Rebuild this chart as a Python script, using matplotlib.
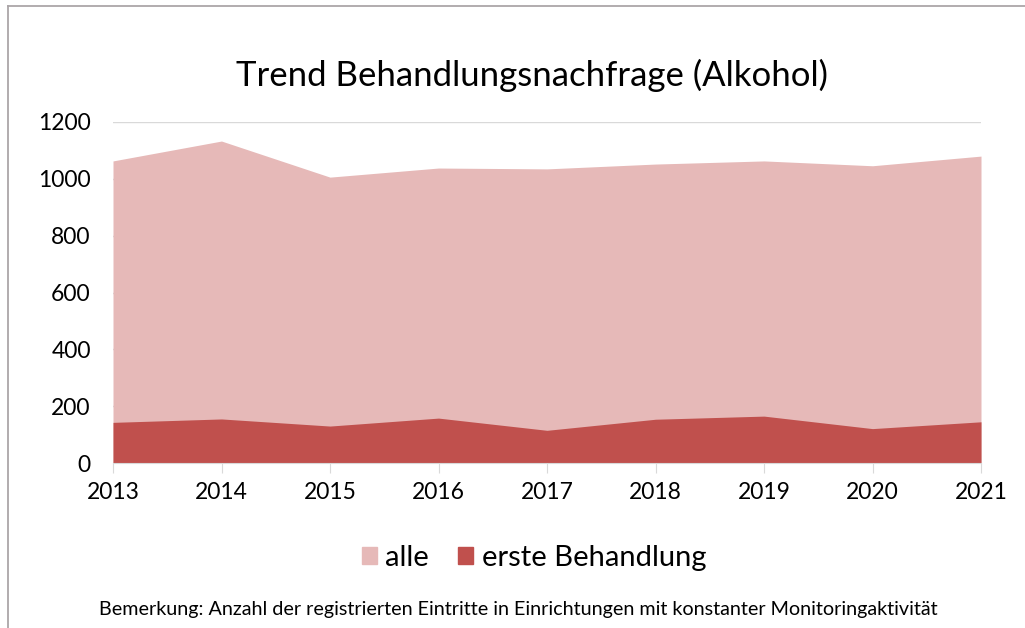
import numpy as np
import matplotlib; matplotlib.use('Agg'); import matplotlib.pyplot as plt
from matplotlib.patches import Patch
from matplotlib.lines import Line2D

years = [2013, 2014, 2015, 2016, 2017, 2018, 2019, 2020, 2021]
alle = [1063, 1133, 1006, 1038, 1035, 1052, 1063, 1046, 1080]
erste = [143, 155, 130, 158, 115, 154, 165, 121, 145]
yticks = [0, 200, 400, 600, 800, 1000, 1200]

c_alle = '#E6B9B8'; c_erste = '#C0504D'
plt.rcParams['font.family'] = ['Lato', 'DejaVu Sans']

fig = plt.figure(figsize=(10.25, 6.28), dpi=100)
ax = fig.add_axes([113/1025, 1-463/628, (981-113)/1025, (463-122)/628])

x = np.arange(len(years))
ax.fill_between(x, 0, alle, color=c_alle, lw=0, zorder=2)
ax.fill_between(x, 0, erste, color=c_erste, lw=0, zorder=3)

ax.set_xlim(0, len(years)-1); ax.set_ylim(0, 1200)
ax.set_yticks(yticks); ax.set_xticks(x); ax.set_xticklabels([str(y) for y in years])
ax.yaxis.grid(True, color='#D9D9D9', lw=1, zorder=0)
ax.set_axisbelow(True)
for s in ('top', 'right', 'left'): ax.spines[s].set_visible(False)
ax.spines['bottom'].set_color('#D9D9D9'); ax.spines['bottom'].set_zorder(4)
ax.tick_params(axis='y', length=0, labelsize=16.5, pad=16)
ax.tick_params(axis='x', length=7, color='#D9D9D9', labelsize=16.5, pad=7)

fig.text(0.519, 1-75/628, 'Trend Behandlungsnachfrage (Alkohol)', ha='center', va='center', fontsize=25)

handles = [Patch(color=c_alle), Patch(color=c_erste)]
fig.legend(handles, ['alle', 'erste Behandlung'], loc='center', bbox_to_anchor=(0.521, 1-558/628),
           ncol=2, frameon=False, fontsize=21, handlelength=0.52, handleheight=0.52,
           handletextpad=0.28, columnspacing=1.0)

fig.text(0.506, 1-609/628, 'Bemerkung: Anzahl der registrierten Eintritte in Einrichtungen mit konstanter Monitoringaktivität',
         ha='center', va='center', fontsize=14.2)

# outer frame (top and left only)
fig.add_artist(Line2D([7.5/1025, 1], [1-5.5/628, 1-5.5/628], color='#ABA6A8', lw=1.3, transform=fig.transFigure))
fig.add_artist(Line2D([7.5/1025, 7.5/1025], [0, 1-5.5/628], color='#ABA6A8', lw=1.3, transform=fig.transFigure))

fig.savefig('out.png', dpi=100)
